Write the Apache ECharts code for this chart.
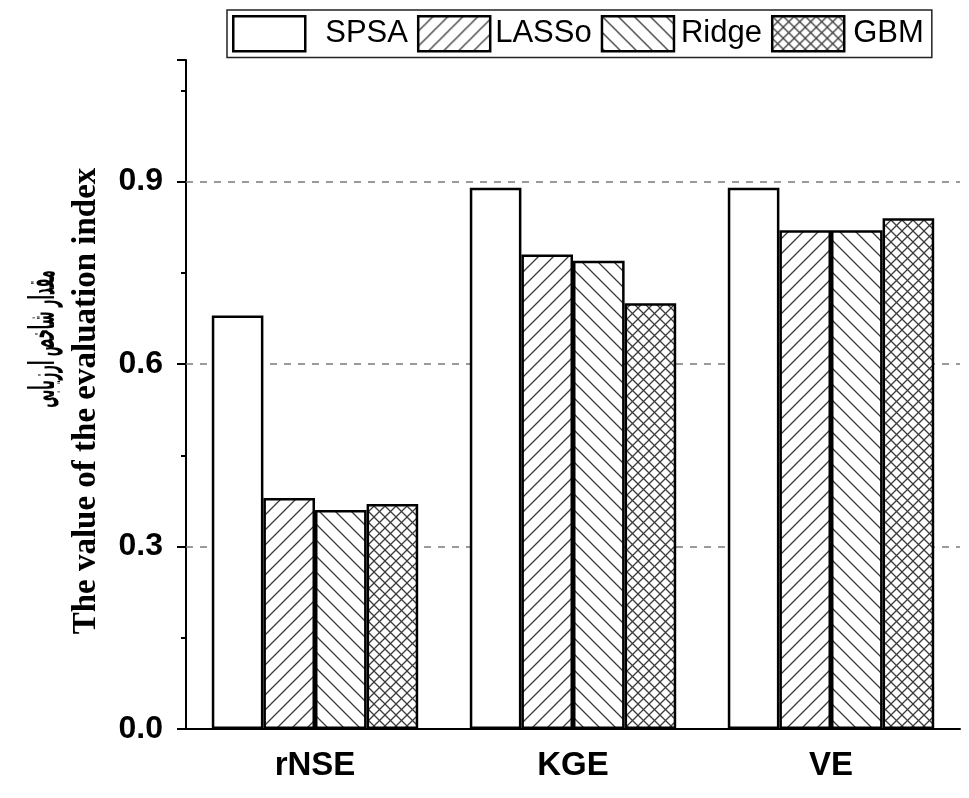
<!DOCTYPE html>
<html><head><meta charset="utf-8">
<script src="https://cdn.jsdelivr.net/npm/echarts@6/dist/echarts.min.js"></script>
<style>html,body{margin:0;padding:0;background:#fff}#c{width:969px;height:798px}</style>
</head><body><div id="c"></div>
<script>
const categories = ['rNSE', 'KGE', 'VE'];
const seriesNames = ['SPSA', 'LASSo', 'Ridge', 'GBM'];
const spsa = [0.68, 0.89, 0.89];
const lasso = [0.38, 0.78, 0.82];
const ridge = [0.36, 0.77, 0.82];
const gbm = [0.37, 0.70, 0.84];
const gridLines = [0.3, 0.6, 0.9];
const yTitleEn = 'The value of the evaluation index';
const yTitleFa = 'مقدار شاخص ارزیابی';

function pattern(kind, s) {
  const c = document.createElement('canvas');
  c.width = s; c.height = s;
  const g = c.getContext('2d');
  g.fillStyle = '#fff'; g.fillRect(0, 0, s, s);
  g.strokeStyle = '#3a3a3a'; g.lineWidth = 1.3;
  const fwd = () => { g.beginPath(); g.moveTo(-2, s + 2); g.lineTo(s + 2, -2); g.moveTo(-2, 2); g.lineTo(2, -2); g.moveTo(s - 2, s + 2); g.lineTo(s + 2, s - 2); g.stroke(); };
  const back = () => { g.beginPath(); g.moveTo(-2, -2); g.lineTo(s + 2, s + 2); g.moveTo(-2, s - 2); g.lineTo(2, s + 2); g.moveTo(s - 2, -2); g.lineTo(s + 2, 2); g.stroke(); };
  if (kind === 'fwd' || kind === 'cross') fwd();
  if (kind === 'back' || kind === 'cross') back();
  return { image: c, repeat: 'repeat' };
}
const fills = ['#ffffff', pattern('fwd', 15), pattern('back', 16), pattern('cross', 11)];
const values = [spsa, lasso, ridge, gbm];
const legendTextPad = [15, 0, 2, 4];

const chart = echarts.init(document.getElementById('c'), null, { renderer: 'canvas' });
const axisFont = { color: '#000', fontFamily: 'Liberation Sans, Arial, sans-serif', fontWeight: 'bold' };

const series = seriesNames.map((n, i) => ({
  name: n, type: 'bar', data: values[i], z: 10,
  barGap: '0%', barCategoryGap: '20%',
  itemStyle: { color: fills[i], borderColor: '#000', borderWidth: 2.5 }
}));
series.push({
  name: 'grid', type: 'line', data: [], z: 1, silent: true,
  markLine: {
    z: 1, silent: true, symbol: 'none', label: { show: false },
    lineStyle: { type: [7, 7], color: '#7a7a7a', width: 1.5 },
    data: gridLines.map(v => ({ yAxis: v }))
  }
});

chart.setOption({
  animation: false,
  backgroundColor: '#fff',
  grid: { left: 186, right: 9, top: 60, bottom: 69 },
  legend: {
    data: seriesNames.map((n, i) => ({ name: n, textStyle: { padding: [0, 0, 0, legendTextPad[i]] } })),
    left: 227, top: 10, icon: 'rect',
    itemWidth: 72, itemHeight: 35, itemGap: 9, padding: [5, 8, 5, 5],
    borderColor: '#222', borderWidth: 1.5,
    itemStyle: { borderColor: '#000', borderWidth: 2.5 },
    textStyle: { color: '#000', fontSize: 31, fontFamily: 'Liberation Sans, Arial, sans-serif' }
  },
  xAxis: [{
    type: 'category', data: categories, position: 'bottom',
    axisLine: { lineStyle: { color: '#000', width: 2 } },
    axisTick: { alignWithLabel: true, length: 12, lineStyle: { color: '#000', width: 2 } },
    axisLabel: Object.assign({ fontSize: 33, margin: 20 }, axisFont)
  }, {
    type: 'category', data: categories, position: 'bottom',
    axisLine: { show: false },
    axisTick: { length: 6, lineStyle: { color: '#000', width: 2 } },
    axisLabel: { show: false }
  }],
  yAxis: {
    type: 'value', min: 0, max: 1.1, interval: 0.3,
    axisLine: { show: true, lineStyle: { color: '#000', width: 2 } },
    axisTick: { show: true, length: 9, lineStyle: { color: '#000', width: 2 } },
    minorTick: { show: true, splitNumber: 2, length: 5, lineStyle: { color: '#000', width: 2 } },
    splitLine: { show: false },
    axisLabel: Object.assign({ fontSize: 32, margin: 23, showMaxLabel: false,
      formatter: v => (v > 1 ? '' : v.toFixed(1)) }, axisFont)
  },
  graphic: [
    { type: 'text', x: 86, y: 401, rotation: Math.PI / 2,
      style: { text: yTitleEn, fill: '#000', font: 'bold 33px "Liberation Serif", serif', align: 'center', verticalAlign: 'middle' } },
    { type: 'text', x: 45, y: 339, rotation: Math.PI / 2, scaleX: 0.36,
      style: { text: yTitleFa, fill: '#000', font: 'bold 36px "DejaVu Sans", sans-serif', align: 'center', verticalAlign: 'middle' } }
  ],
  series: series
});
</script></body></html>
